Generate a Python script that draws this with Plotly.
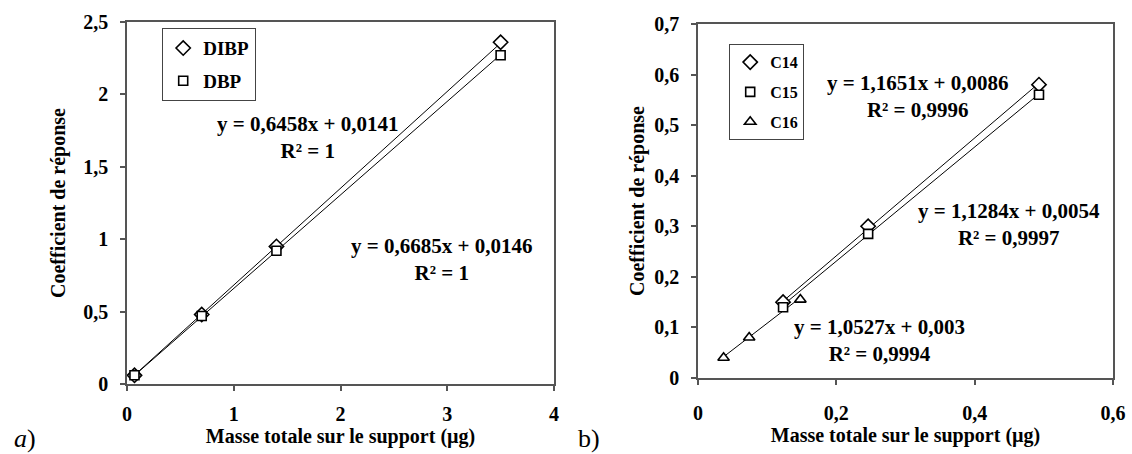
import plotly.graph_objects as go

# ---- panel a) phthalates ----
mass_a = [0.07, 0.7, 1.4, 3.5]
dibp = [0.06, 0.48, 0.95, 2.36]
dbp = [0.06, 0.47, 0.92, 2.27]
fit_a_slope = [0.6685, 0.6458]
fit_a_icpt = [0.0146, 0.0141]
eq_a = ["y = 0,6458x + 0,0141<br>R² = 1", "y = 0,6685x + 0,0146<br>R² = 1"]
eq_a_pos = [(1.69, 1.70), (2.95, 0.86)]

# ---- panel b) alkanes ----
mass_c14 = [0.123, 0.246, 0.493]
c14 = [0.15, 0.30, 0.58]
mass_c15 = [0.123, 0.246, 0.493]
c15 = [0.14, 0.285, 0.56]
mass_c16 = [0.037, 0.074, 0.148]
c16 = [0.04, 0.08, 0.155]
fit_b_slope = [1.1651, 1.1284, 1.0527]
fit_b_icpt = [0.0086, 0.0054, 0.003]
eq_b = ["y = 1,1651x + 0,0086<br>R² = 0,9996",
        "y = 1,1284x + 0,0054<br>R² = 0,9997",
        "y = 1,0527x + 0,003<br>R² = 0,9994"]
eq_b_pos = [(0.318, 0.557), (0.450, 0.303), (0.263, 0.075)]

FONT = "Liberation Serif"
W, H = 1132, 454

fig = go.Figure()


def trend(xs, slope, icpt, xa, ya):
    lo, hi = min(xs), max(xs)
    fig.add_trace(go.Scatter(x=[lo, hi], y=[slope * lo + icpt, slope * hi + icpt],
                             mode="lines", line=dict(color="black", width=1),
                             showlegend=False, hoverinfo="skip", xaxis=xa, yaxis=ya))


# trend lines
trend(mass_a, fit_a_slope[0], fit_a_icpt[0], "x", "y")
trend(mass_a, fit_a_slope[1], fit_a_icpt[1], "x", "y")
trend(mass_c14, fit_b_slope[0], fit_b_icpt[0], "x2", "y2")
trend(mass_c15, fit_b_slope[1], fit_b_icpt[1], "x2", "y2")
trend(mass_c16, fit_b_slope[2], fit_b_icpt[2], "x2", "y2")


def pts(xs, ys, name, sym, size, xa, ya, leg, grp):
    fig.add_trace(go.Scatter(x=xs, y=ys, name=name, mode="markers",
                             marker=dict(symbol=sym, size=size, color="white",
                                         line=dict(color="black", width=1.6)),
                             xaxis=xa, yaxis=ya, legend=leg, legendgroup=grp))


pts(mass_a, dibp, "DIBP", "diamond", 11, "x", "y", "legend", "a1")
pts(mass_a, dbp, "DBP", "square", 9, "x", "y", "legend", "a2")
pts(mass_c14, c14, "C14", "diamond", 11, "x2", "y2", "legend2", "b1")
pts(mass_c15, c15, "C15", "square", 9, "x2", "y2", "legend2", "b2")
pts(mass_c16, c16, "C16", "triangle-up", 10, "x2", "y2", "legend2", "b3")

tick_font = dict(family=FONT, size=20, color="black", weight="bold")
title_font = dict(family=FONT, size=20, color="black", weight="bold")
axis_common = dict(showline=True, linecolor="#555555", linewidth=1.5, mirror=True,
                   ticks="outside", ticklen=5, tickcolor="#555555", tickwidth=1.5,
                   showgrid=False, zeroline=False, tickfont=tick_font,
                   automargin=False)


# pixel -> paper helpers
def px(v):
    return v / W


def py(v):
    return 1 - v / H


fig.update_layout(
    width=W, height=H, margin=dict(l=0, r=0, t=0, b=0),
    paper_bgcolor="white", plot_bgcolor="white",
    separators=", ",
    font=dict(family=FONT, color="black"),
    xaxis=dict(domain=[px(127), px(554)], range=[0, 4], dtick=1, anchor="y",
               title=dict(text="Masse totale sur le support (µg)", font=title_font, standoff=2),
               ticklabelstandoff=6, **axis_common),
    yaxis=dict(domain=[py(384), py(22)], range=[0, 2.5], dtick=0.5, anchor="x",
               title=dict(text="Coefficient de réponse", font=title_font, standoff=12),
               ticklabelstandoff=8, **axis_common),
    xaxis2=dict(domain=[px(698), px(1113)], range=[0, 0.6], dtick=0.2, anchor="y2",
                title=dict(text="Masse totale sur le support (µg)", font=title_font, standoff=2),
                ticklabelstandoff=11, **axis_common),
    yaxis2=dict(domain=[py(378), py(24)], range=[0, 0.7], dtick=0.1, anchor="x2",
                title=dict(text="Coefficient de réponse", font=title_font, standoff=4),
                ticklabelstandoff=8, **axis_common),
    legend=dict(x=px(162), y=py(28), xanchor="left", yanchor="top",
                bordercolor="#444444", borderwidth=1.2, bgcolor="white",
                font=dict(family=FONT, size=19, color="black", weight="bold"),
                tracegroupgap=5, itemwidth=30),
    legend2=dict(x=px(729), y=py(44), xanchor="left", yanchor="top",
                 bordercolor="#444444", borderwidth=1.2, bgcolor="white",
                 font=dict(family=FONT, size=16, color="black", weight="bold"),
                 tracegroupgap=6, itemwidth=30),
)

eq_font = dict(family=FONT, size=21, color="black", weight="bold")
for txt, (ex, ey) in zip(eq_a, eq_a_pos):
    fig.add_annotation(x=ex, y=ey, xref="x", yref="y", text=txt, showarrow=False,
                       font=eq_font, align="center", xanchor="center", yanchor="middle")
for txt, (ex, ey) in zip(eq_b, eq_b_pos):
    fig.add_annotation(x=ex, y=ey, xref="x2", yref="y2", text=txt, showarrow=False,
                       font=eq_font, align="center", xanchor="center", yanchor="middle")

# panel letters
fig.add_annotation(x=px(25), y=py(438), xref="paper", yref="paper", text="<i>a</i>)",
                   showarrow=False, xanchor="center", yanchor="middle",
                   font=dict(family=FONT, size=26, color="black"))
fig.add_annotation(x=px(589), y=py(438), xref="paper", yref="paper", text="b)",
                   showarrow=False, xanchor="center", yanchor="middle",
                   font=dict(family=FONT, size=26, color="black"))

fig.write_html("out.html")
